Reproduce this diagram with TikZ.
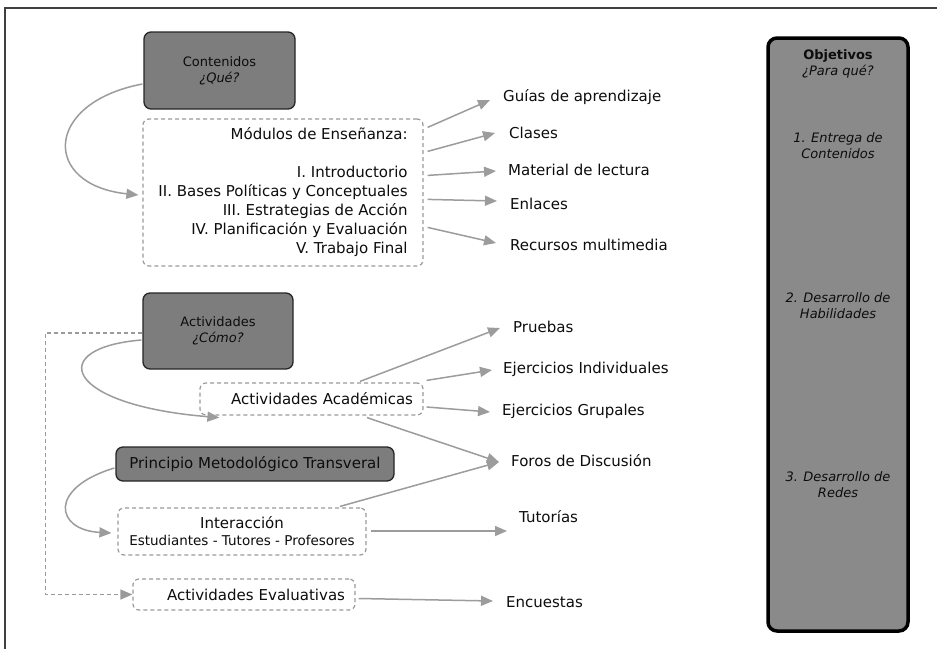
\documentclass[tikz,border=0pt]{standalone}
\usepackage{fontspec}
\setmainfont{DejaVu Sans}
\usetikzlibrary{arrows.meta,calc}
\definecolor{txt}{HTML}{0D0D0D}
\definecolor{boxgray}{HTML}{7D7D7D}
\definecolor{objgray}{HTML}{8A8A8A}
\definecolor{lin}{HTML}{9C9C9C}
\definecolor{dash}{HTML}{9A9A9A}
\begin{document}
\begin{tikzpicture}[x=1pt,y=-1pt,
  every node/.style={text=txt},
  graybox/.style={draw=black!85,line width=1.3pt,fill=boxgray,rounded corners=7pt,inner sep=0pt,align=center,font=\fontsize{13}{16}\selectfont},
  dbox/.style={draw=dash,line width=1.2pt,dash pattern=on 4pt off 3pt,rounded corners=6pt,inner sep=0pt,font=\fontsize{15}{19}\selectfont},
  lbl/.style={anchor=west,inner sep=0pt,font=\fontsize{15}{18}\selectfont},
  objtxt/.style={inner sep=0pt,align=center,font=\fontsize{13}{16}\selectfont},
  arr/.style={draw=lin,line width=1.5pt,-{Triangle[length=12pt,width=10pt,fill=lin]}},
  darr/.style={draw=dash,line width=1.2pt,dash pattern=on 4pt off 3pt,-{Triangle[length=12pt,width=10pt,fill=dash]}}
]
\useasboundingbox (0,0) rectangle (937,649);
\fill[white] (0,0) rectangle (937,649);
% frame
\draw[line width=1.5pt,color=black!75] (5,649) -- (5,8) -- (937,8);

% objectives column
\node[draw=black,line width=3.5pt,fill=objgray,rounded corners=9pt,minimum width=140pt,minimum height=593pt,inner sep=0pt] (obj) at (838,334.5) {};
\node[objtxt] (objt) at (838,64) {\textbf{Objetivos}\\\textit{¿Para qué?}};
\node[objtxt] (obj1) at (838,146) {\textit{1. Entrega de}\\\textit{Contenidos}};
\node[objtxt] (obj2) at (838,306) {\textit{2. Desarrollo de}\\\textit{Habilidades}};
\node[objtxt] (obj3) at (838,485) {\textit{3. Desarrollo de}\\\textit{Redes}};

% gray boxes
\node[graybox,minimum width=151pt,minimum height=77pt] (cont) at (219.5,70.5) {Contenidos\\\textit{¿Qué?}};
\node[graybox,minimum width=150pt,minimum height=76pt] (act) at (218,331) {Actividades\\\textit{¿Cómo?}};
\node[graybox,minimum width=278pt,minimum height=34pt,font=\fontsize{15}{18}\selectfont] (prin) at (255,464) {Principio Metodológico Transveral};

% dashed boxes
\node[dbox,minimum width=280pt,minimum height=147pt,align=right] (mod) at (283,192.5) {Módulos de Enseñanza:\\[19pt]I. Introductorio\\II. Bases Políticas y Conceptuales\\III. Estrategias de Acción\\IV. Planificación y Evaluación\\V. Trabajo Final};
\node[dbox,minimum height=32pt,text width=203pt,inner xsep=10pt,align=right] (acad) at (311.5,399) {Actividades Académicas};
\node[dbox,minimum width=248pt,minimum height=47pt,align=center] (inter) at (242,531.5) {Interacción\\[-2pt]{\fontsize{13.5}{15}\selectfont Estudiantes - Tutores - Profesores}};
\node[dbox,minimum height=31pt,text width=202pt,inner xsep=10pt,align=right] (eval) at (244,594.5) {Actividades Evaluativas};

% labels
\node[lbl] (guias) at (503,97) {Guías de aprendizaje};
\node[lbl] (clases) at (509,133) {Clases};
\node[lbl] (mat) at (508,170) {Material de lectura};
\node[lbl] (enl) at (510,204) {Enlaces};
\node[lbl] (rec) at (510,245) {Recursos multimedia};
\node[lbl] (prue) at (513,327) {Pruebas};
\node[lbl] (ejind) at (503,369) {Ejercicios Individuales};
\node[lbl] (ejgru) at (502,411) {Ejercicios Grupales};
\node[lbl] (foros) at (511,461) {Foros de Discusión};
\node[lbl] (tut) at (519,517) {Tutorías};
\node[lbl] (enc) at (506,602) {Encuestas};

% curved arrows
\draw[arr] ($(cont.west)+(-1,13.5)$) .. controls (43,103) and (42,185) .. ($(mod.west)+(-4,2.5)$);
\draw[arr] ($(act.west)+(-1,9)$) .. controls (45,348) and (64,405) .. ($(acad.south west)+(20,2)$);
\draw[arr] ($(prin.west)+(-1,4)$) .. controls (48,488) and (55,530) .. ($(inter.west)+(-6,1.5)$);
\draw[darr] ($(act.west)+(0,2)$) -- ++(-97,0) |- (eval.west);

% module arrows
\draw[arr] ($(mod.north east)+(4,9)$) -- ($(guias.west)+(-13,3)$);
\draw[arr] ($(mod.north east)+(4,33)$) -- ($(clases.west)+(-14,0)$);
\draw[arr] ($(mod.north east)+(4,57)$) -- ($(mat.west)+(-12,1)$);
\draw[arr] ($(mod.north east)+(4,81)$) -- ($(enl.west)+(-13,-3)$);
\draw[arr] ($(mod.north east)+(4,109)$) -- ($(rec.west)+(-14,-2)$);

% activities arrows
\draw[arr] ($(acad.north)+(48.5,-1)$) -- ($(prue.west)+(-13,1)$);
\draw[arr] ($(acad.north east)+(3,-2)$) -- ($(ejind.west)+(-11,1)$);
\draw[arr] ($(acad.east)+(3,8)$) -- ($(ejgru.west)+(-12,1)$);
\draw[arr] ($(acad.south)+(55.5,2)$) -- ($(foros.west)+(-12,1)$);
\draw[arr] ($(inter.north)+(98,-1)$) -- ($(foros.west)+(-12,1)$);
\draw[arr] ($(inter.east)+(4,-0.5)$) -- ($(tut.west)+(-12,14)$);
\draw[arr] ($(eval.east)+(3,4)$) -- ($(enc.west)+(-13,-1)$);
\end{tikzpicture}
\end{document}
